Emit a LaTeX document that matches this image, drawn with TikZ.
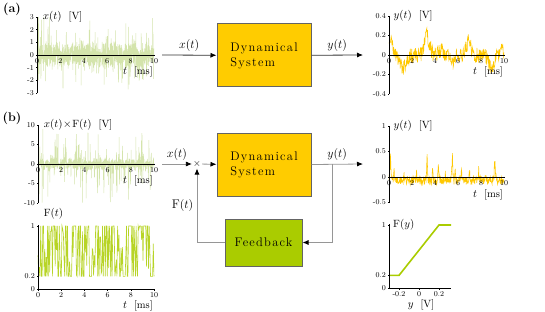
\documentclass[tikz,border=0pt]{standalone}
\usepackage{fontspec}
\usepackage{tikz}
\usetikzlibrary{arrows.meta,positioning}
\newfontfamily\dsfont{lmroman12-regular.otf}[LetterSpace=10]
\definecolor{dsyellow}{RGB}{255,204,0}
\definecolor{fbgreen}{RGB}{170,204,0}
\definecolor{noisegreen}{RGB}{212,228,172}
\definecolor{sigyellow}{RGB}{255,200,0}
\definecolor{boxgray}{RGB}{100,100,100}
\definecolor{wiregray}{RGB}{150,150,150}

\begin{document}
\begin{tikzpicture}[
  x=1pt,y=-1pt,
  declare function={spk(\r)=\r*\r*\r*\r*\r*\r*\r*\r*\r*\r*\r*\r*\r*\r*\r;
                     bmp(\t,\c,\a,\w)=\a*max(0,1-abs(\t-\c)/\w)^2;},
  tick/.style={font=\fontsize{7.5}{8}\selectfont,inner sep=1.5pt},
  axlabel/.style={font=\fontsize{10.5}{12}\selectfont,inner sep=1pt},
  sig/.style={font=\fontsize{12.5}{14}\selectfont},
  block/.style={draw=boxgray,line width=1pt,minimum width=94pt,minimum height=63pt,
                fill=dsyellow,align=left,font=\dsfont\fontsize{12.5}{15}\selectfont},
  fbblock/.style={block,fill=fbgreen,minimum width=77pt,minimum height=47pt},
  wire/.style={draw=#1,line width=0.8pt,-{Latex[length=6pt,width=5pt,color=black]}},
  wire/.default=black!80,
  tag/.style={font=\fontsize{12.5}{14}\selectfont\bfseries}
]
  \useasboundingbox (0,0) rectangle (545,312);

  % (a) open loop
  \node[tag] (tagA) at (12,9) {(a)};
  \begin{scope}[shift={(37,55)},x=11.7pt,y=12.7pt]
    \pgfmathsetseed{7}
    \draw[noisegreen,line width=0.5pt] plot[domain=0:10,samples=1000]
      (\x,{max(-3,min(3,0.6*(rand+rand)+2.6*spk(rand)))});
    \draw (0,-3) -- (0,3) (0,0) -- (10,0);
    \foreach \v in {-3,...,3} \draw (0,\v) -- ++(-1.5pt,0) node[tick,left] {\v};
    \foreach \v in {0,2,...,10} \draw (\v,0) -- ++(0,-1.5pt) node[tick,below] {\v};
    \node[axlabel,anchor=west] (xlabA) at (0.4,3) {$x(t)$\ \ [V]};
    \node[axlabel,anchor=east] (tlabA) at (10,-1.35) {$t$\ \ [ms]};
  \end{scope}

  \node[block] (dsA) at (264,55.5) {Dynamical\\System};
  \coordinate (xinA) at (162,55);
  \coordinate (youtA) at (363,55);
  \draw[wire] (xinA) -- node[sig,above] {$x(t)$} (dsA);
  \draw[wire] (dsA) -- node[sig,above] {$y(t)$} (youtA);

  \begin{scope}[shift={(389,55)},x=11.5pt,y=97.5pt]
    \pgfmathsetseed{11}
    \draw[sigyellow,line width=0.55pt] plot[domain=0:10,samples=320]
      (\x,{bmp(\x,0.1,0.17,0.7)+bmp(\x,1.2,-0.16,0.8)+bmp(\x,3.3,0.24,0.7)
          +bmp(\x,4.5,0.06,0.6)+bmp(\x,5.5,-0.07,0.6)+bmp(\x,6.9,0.16,0.7)
          +bmp(\x,8.9,-0.15,0.8)+bmp(\x,9.9,0.08,0.5)+0.08*rand});
    \draw (0,-0.4) -- (0,0.4) (0,0) -- (10,0);
    \foreach \v in {-0.4,-0.2,0,0.2,0.4} \draw (0,\v) -- ++(-1.5pt,0) node[tick,left] {\v};
    \foreach \v in {0,2,...,10} \draw (\v,0) -- ++(0,-1.5pt) node[tick,below] {\v};
    \node[axlabel,anchor=west] (ylabA) at (0.3,0.4) {$y(t)$\ \ [V]};
    \node[axlabel,anchor=east] (tlabA2) at (10,-0.175) {$t$\ \ [ms]};
  \end{scope}

  % (b) closed loop
  \node[tag] (tagB) at (12,118) {(b)};
  \begin{scope}[shift={(38,164)},x=11.6pt,y=3.9pt]
    \pgfmathsetseed{3}
    \draw[noisegreen,line width=0.5pt] plot[domain=0:10,samples=900]
      (\x,{max(-10,min(10,0.9*(rand+rand)+9*spk(rand)))});
    \draw (0,-10) -- (0,10) (0,0) -- (10,0);
    \foreach \v in {-10,-5,0,5,10} \draw (0,\v) -- ++(-1.5pt,0) node[tick,left] {\v};
    \foreach \v in {0,2,...,10} \draw (\v,0) -- ++(0,-1.5pt) node[tick,below] {\v};
    \node[axlabel,anchor=west] (xlabB) at (0.4,10) {$x(t)\!\times\!\mathrm{F}(t)$\ \ [V]};
    \node[axlabel,anchor=east] (tlabB) at (10,-4.4) {$t$\ \ [ms]};
  \end{scope}

  \begin{scope}[shift={(38,289)},x=11.6pt,y=63pt]
    \pgfmathsetseed{5}
    \draw[fbgreen,line width=0.6pt,opacity=0.85] plot[domain=0:10,samples=170]
      (\x,{max(0.2,min(1,0.6+1.3*rand))});
    \draw (0,0) -- (0,1.02) (0,0) -- (10,0);
    \foreach \v in {0,0.2,1} \draw (0,\v) -- ++(-1.5pt,0) node[tick,left] {\v};
    \foreach \v in {0,2,...,10} \draw (\v,0) -- ++(0,-1.5pt) node[tick,below] {\v};
    \node[axlabel,anchor=west] (flabB) at (0.4,1.2) {$\mathrm{F}(t)$};
    \node[axlabel,anchor=east] (tlabB2) at (10,-0.26) {$t$\ \ [ms]};
  \end{scope}

  \node[block] (dsB) at (264,165) {Dynamical\\System};
  \node[inner sep=1pt,font=\fontsize{10}{11}\selectfont] (mult) at (197,164) {$\times$};
  \node[fbblock] (fb) at (263.5,242.5) {Feedback};
  \coordinate (xinB) at (162,164);
  \coordinate (youtB) at (363,164);
  \coordinate (tap) at (332,164);
  \draw[wire=wiregray] (xinB) -- node[sig,above] {$x(t)$} (mult);
  \draw[wire=wiregray] (mult) -- (dsB);
  \draw[wire=wiregray] (dsB) -- node[sig,above] {$y(t)$} (youtB);
  \draw[wire=wiregray] (tap) |- (fb);
  \draw[wire=wiregray] (fb) -| node[sig,pos=0.75,left] {$\mathrm{F}(t)$} (mult);

  \begin{scope}[shift={(389,177)},x=11.5pt,y=51pt]
    \pgfmathsetseed{9}
    \draw[sigyellow,line width=0.55pt] plot[domain=0:10,samples=360]
      (\x,{(bmp(\x,0.12,0.75,0.15)+bmp(\x,0.45,0.3,0.12)+bmp(\x,1.3,0.15,0.12)
          +bmp(\x,2.4,0.2,0.12)+bmp(\x,3.3,0.75,0.12)+bmp(\x,3.8,0.35,0.12)
          +bmp(\x,4.3,0.42,0.12)+bmp(\x,4.9,0.15,0.12)+bmp(\x,5.5,0.72,0.15)
          +bmp(\x,5.75,0.4,0.1)+bmp(\x,6.3,0.3,0.12)+bmp(\x,7.0,0.36,0.12)
          +bmp(\x,7.8,0.22,0.12)+bmp(\x,8.4,0.15,0.12)+bmp(\x,9.2,0.62,0.15)
          +bmp(\x,9.6,0.12,0.1))*(0.75+0.25*rand)-0.07+0.08*rand});
    \draw (0,-0.5) -- (0,1) (0,0) -- (10,0);
    \foreach \v in {-0.5,0,0.5,1} \draw (0,\v) -- ++(-1.5pt,0) node[tick,left] {\v};
    \foreach \v in {0,2,...,10} \draw (\v,0) -- ++(0,-1.5pt) node[tick,below] {\v};
    \node[axlabel,anchor=west] (ylabB) at (0.3,1) {$y(t)$\ \ [V]};
    \node[axlabel,anchor=east] (tlabB3) at (10,-0.35) {$t$\ \ [ms]};
  \end{scope}

  \begin{scope}[shift={(419,288)},x=100pt,y=63pt]
    \draw[fbgreen,line width=1.6pt] (-0.3,0.2) -- (-0.2,0.2) -- (0.2,1) -- (0.32,1);
    \draw (-0.3,0) -- (-0.3,1.02) (-0.3,0) -- (0.32,0);
    \foreach \v in {0,0.2,1} \draw (-0.3,\v) -- ++(-1.5pt,0) node[tick,left] {\v};
    \foreach \v in {-0.2,0,0.2} \draw (\v,0) -- ++(0,-1.5pt) node[tick,below] {\v};
    \node[axlabel,anchor=west] (flabY) at (-0.27,1) {$\mathrm{F}(y)$};
    \node[axlabel] (ylabY) at (0.02,-0.27) {$y$\ \ [V]};
  \end{scope}
\end{tikzpicture}
\end{document}
